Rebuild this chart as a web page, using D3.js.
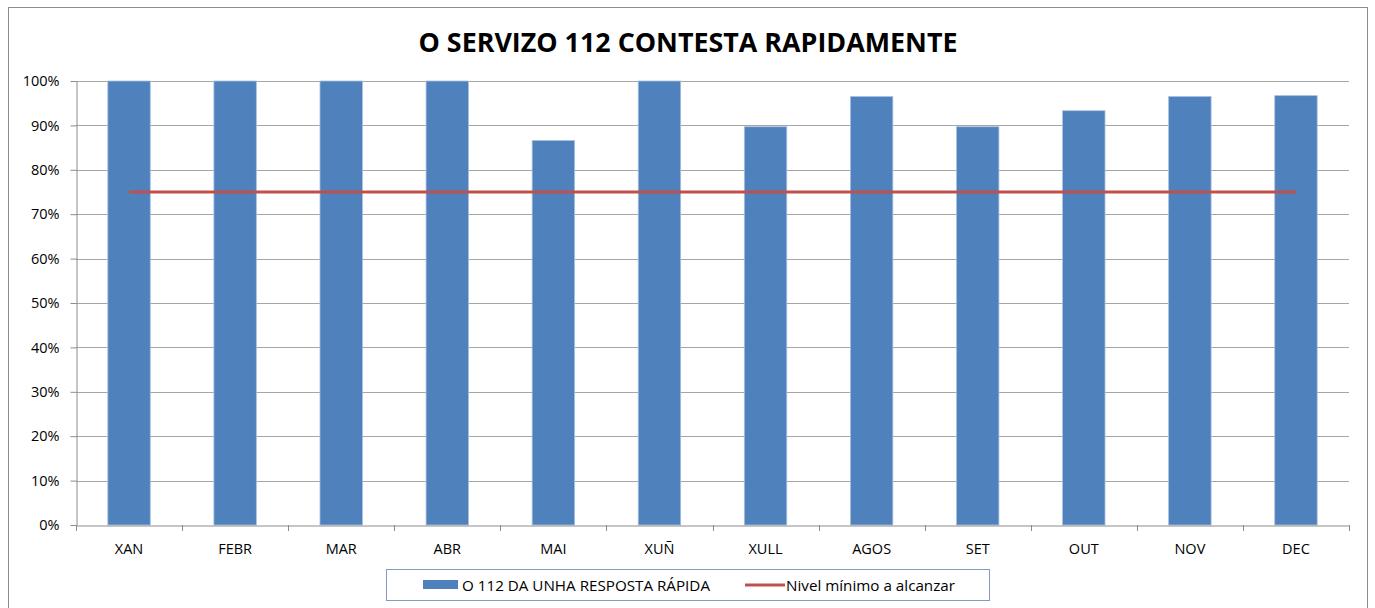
<!DOCTYPE html>
<html><head><meta charset="utf-8">
<script src="https://cdn.jsdelivr.net/npm/d3@7"></script>
<style>body{margin:0;background:#fff}svg{display:block;font-family:"Open Sans",sans-serif}</style>
</head><body><svg id="c" width="1375" height="608"></svg>
<script>
const categories = ["XAN","FEBR","MAR","ABR","MAI","XUÑ","XULL","AGOS","SET","OUT","NOV","DEC"];
const rapidResponse = [1.0,1.0,1.0,1.0,0.866,1.0,0.897,0.965,0.897,0.933,0.965,0.967];
const minimumLevel = [0.75,0.75,0.75,0.75,0.75,0.75,0.75,0.75,0.75,0.75,0.75,0.75];
const yTicks = [0,0.1,0.2,0.3,0.4,0.5,0.6,0.7,0.8,0.9,1.0];
const titleText = "O SERVIZO 112 CONTESTA RAPIDAMENTE";
const seriesNames = ["O 112 DA UNHA RESPOSTA RÁPIDA","Nivel mínimo a alcanzar"];

const svg = d3.select("#c");
// chart border
svg.append("rect").attr("x",8.5).attr("y",7.5).attr("width",1359).attr("height",612)
  .attr("fill","none").attr("stroke","#8c8c8c").attr("stroke-width",1);

const L=76, R=1349, T=81, B=525;
const x = d3.scaleBand().domain(categories).range([L,R]).paddingInner(0.6).paddingOuter(0.3);
const y = d3.scaleLinear().domain([0,1]).range([B,T]);

// gridlines
svg.append("g").selectAll("line").data(yTicks.filter(d=>d>0)).join("line")
  .attr("x1",L).attr("x2",R).attr("y1",d=>Math.round(y(d))+0.5).attr("y2",d=>Math.round(y(d))+0.5)
  .attr("stroke","#a6a6a6").attr("stroke-width",1);

// y axis
const yAxis = svg.append("g").attr("transform",`translate(${L+0.5},0)`)
  .call(d3.axisLeft(y).tickValues(yTicks).tickFormat(d3.format(".0%")).tickSize(6).tickSizeOuter(0));
yAxis.select(".domain").attr("stroke","#8c8c8c");
yAxis.selectAll(".tick line").attr("stroke","#8c8c8c");
yAxis.selectAll(".tick text").attr("font-size",14.5).attr("fill","#000").attr("x",-17).attr("font-family","Open Sans");

// bars
svg.append("g").selectAll("rect").data(categories).join("rect")
  .attr("x",d=>x(d)).attr("width",x.bandwidth())
  .attr("y",(d,i)=>y(rapidResponse[i])).attr("height",(d,i)=>B-y(rapidResponse[i]))
  .attr("fill","#4f81bd").attr("stroke","#a7c0de").attr("stroke-width",0.8);

// x axis
const xb = d3.scaleBand().domain(categories).range([L,R]);
const xAxis = svg.append("g").attr("transform",`translate(0,${B+0.5})`)
  .call(d3.axisBottom(xb).tickSize(0).tickSizeOuter(0));
xAxis.select(".domain").attr("stroke","#8c8c8c");
xAxis.selectAll(".tick text").attr("font-size",14.5).attr("fill","#000").attr("y",0).attr("dy",28.5).attr("font-family","Open Sans");
svg.append("g").selectAll("line").data(d3.range(categories.length+1)).join("line")
  .attr("x1",i=>Math.round(L+i*xb.step())+0.5).attr("x2",i=>Math.round(L+i*xb.step())+0.5)
  .attr("y1",B).attr("y2",B+6).attr("stroke","#8c8c8c");

// line
const line = d3.line().x((d,i)=>x(categories[i])+x.bandwidth()/2).y(d=>y(d));
svg.append("path").datum(minimumLevel).attr("d",line).attr("fill","none")
  .attr("stroke","#c0504d").attr("stroke-width",3.2);

// title
svg.append("text").attr("x",688).attr("y",52).attr("text-anchor","middle")
  .attr("font-size",26).attr("font-weight","bold").attr("fill","#000")
  .attr("textLength",539).attr("lengthAdjust","spacingAndGlyphs").text(titleText);

// legend
const lg = svg.append("g");
lg.append("rect").attr("x",386.5).attr("y",569.5).attr("width",603).attr("height",31)
  .attr("fill","#fff").attr("stroke","#7f9dc8").attr("stroke-width",1);
lg.append("rect").attr("x",423).attr("y",580).attr("width",35).attr("height",9).attr("fill","#4f81bd");
lg.append("text").attr("x",462).attr("y",590.5).attr("font-size",14.5).attr("fill","#000")
  .attr("textLength",248).attr("lengthAdjust","spacingAndGlyphs").text(seriesNames[0]);
lg.append("line").attr("x1",745).attr("x2",785).attr("y1",585).attr("y2",585).attr("stroke","#c0504d").attr("stroke-width",3.2);
lg.append("text").attr("x",786).attr("y",590.5).attr("font-size",14.5).attr("fill","#000")
  .attr("textLength",169).attr("lengthAdjust","spacingAndGlyphs").text(seriesNames[1]);
</script></body></html>
